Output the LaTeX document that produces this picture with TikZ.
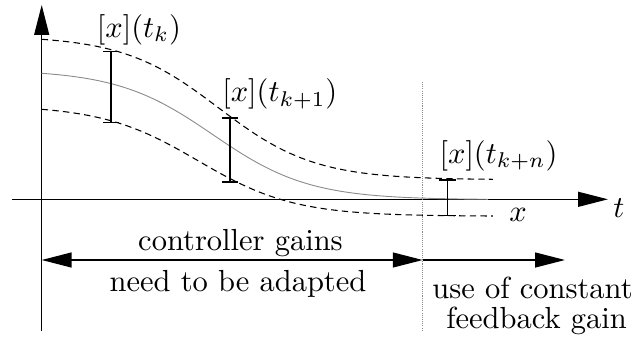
\documentclass[tikz,border=0pt]{standalone}
\usetikzlibrary{arrows.meta}
\begin{document}
\begin{tikzpicture}[x=0.3279pt,y=-0.3279pt,
  declare function={
    sg(\qx,\qm)=1/(1+exp(-(\qx-\qm)/48));
    band(\qx,\qm,\qya,\qyb,\qxa,\qxb)=\qya+(\qyb-\qya)*(sg(\qx,\qm)-sg(\qxa,\qm))/(sg(\qxb,\qm)-sg(\qxa,\qm));
  },
  >={Triangle[length=9.8pt,width=4.9pt]},
  axis/.style={line width=0.45pt,->},
  span/.style={line width=0.45pt},
  bound/.style={line width=0.35pt,dash pattern=on 2.1pt off 1.4pt},
  mean/.style={line width=0.3pt,black!45},
  switchline/.style={line width=0.3pt,black!45,dash pattern=on 0.35pt off 0.35pt},
  interval/.style={line width=0.45pt,{Bar[width=5.4pt]}-{Bar[width=5.4pt]}},
  lbl/.style={anchor=base,inner sep=0pt}]
\useasboundingbox (0,0) rectangle (635,340);

% axes
\coordinate (yb) at (41.7,330.7);
\coordinate (yt) at (41.7,5);
\coordinate (xl) at (12,199.3);
\coordinate (xr) at (608,199.3);
\draw[axis] (yb) -- (yt);
\draw[axis] (xl) -- (xr);

% switching instant
\coordinate (sw) at (422.7,82);
\coordinate (sb) at (422.7,330);
\draw[switchline] (sw) -- (sb);

% bounds of the interval enclosure and the nominal trajectory
\draw[bound] plot[domain=41.7:493,samples=90] (\x,{band(\x,218.5,39.3,179.3,41.7,493)});
\draw[bound] plot[domain=41.7:493,samples=90] (\x,{band(\x,198,109.3,216,41.7,493)});
\draw[mean] plot[domain=41.7:488,samples=90] (\x,{band(\x,213,73.3,199.3,41.7,488)});

% interval bars
\coordinate (b1t) at (111,50.7);
\coordinate (b1b) at (111,123.3);
\coordinate (b2t) at (230,117.3);
\coordinate (b2b) at (230,182.7);
\coordinate (b3t) at (447.7,179.3);
\coordinate (b3b) at (447.7,216);
\draw[interval] (b1t) -- (b1b);
\draw[interval] (b2t) -- (b2b);
\draw[interval] (b3t) -- (b3b);

% phases
\coordinate (a0) at (41.7,260);
\coordinate (a1) at (422.7,260);
\coordinate (a2) at (565,260);
\draw[span,<->] (a0) -- (a1);
\draw[span,->] (a1) -- (a2);

% labels
\node[lbl] (l1) at (139,37) {$[x](t_k)$};
\node[lbl,anchor=base west] (l2) at (221.7,101.7) {$[x](t_{k+1})$};
\node[lbl,anchor=base west] (l3) at (439,163) {$[x](t_{k+n})$};
\node[lbl] (lt) at (619,217) {$t$};
\node[lbl] (lx) at (518,221.7) {$x$};
\node[lbl] (c1) at (240.5,250) {controller gains};
\node[lbl] (c2) at (238,291.7) {need to be adapted};
\node[lbl] (c3) at (532.5,298) {use of constant};
\node[lbl] (c4) at (536.5,328) {feedback gain};
\end{tikzpicture}
\end{document}
